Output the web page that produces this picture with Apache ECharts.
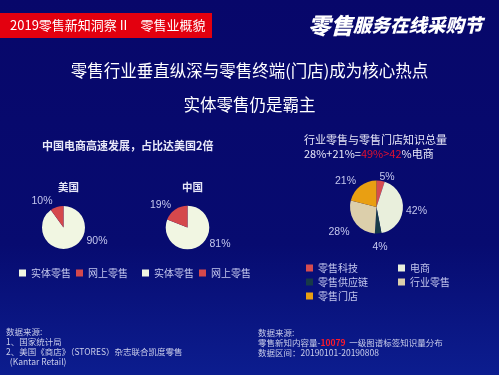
<!DOCTYPE html>
<html><head><meta charset="utf-8">
<script src="https://cdn.jsdelivr.net/npm/echarts@6/dist/echarts.min.js"></script>
<style>html,body{margin:0;padding:0;}#c{width:499px;height:375px;}</style>
</head><body><div id="c"></div>
<script>
// ---- data ----
var retailTypes = ['实体零售', '网上零售'];
var usValues = [90, 10];
var cnValues = [81, 19];
var knowledgeCats = ['零售科技', '电商', '零售供应链', '行业零售', '零售门店'];
var knowledgeValues = [5, 42, 4, 28, 21];

var CJK = '"Noto Sans CJK SC","Liberation Sans",sans-serif';
var LAT = '"Liberation Sans","Noto Sans CJK SC",sans-serif';
var labelColor = '#c4c7ee';
var textColor = '#e8e8f8';

// pie geometry and label placement (styling, relative to each pie centre)
var pieCenters = [[63.5, 227.5], [187.5, 227.5], [376.5, 207]];
var labelOffsets = [
  [[33.5, 13.5], [-21.5, -26.5]],
  [[32.5, 16.5], [-27, -22.5]],
  [[10.5, -30], [40, 4], [3.5, 40.5], [-37.5, 25.5], [-31, -26]]
];

var chart = echarts.init(document.getElementById('c'), null, {renderer: 'canvas'});

function mk(arr, names) { return arr.map(function (v, i) { return {name: names[i], value: v}; }); }

var pctLabel = {
  show: true, position: 'outside', formatter: '{c}%', overflow: 'none', width: 60,
  color: labelColor, fontFamily: LAT, fontSize: 10.5
};
function placeLabel(p) {
  var c = pieCenters[p.seriesIndex], o = labelOffsets[p.seriesIndex][p.dataIndex];
  return {x: c[0] + o[0], y: c[1] + o[1], align: 'center', verticalAlign: 'middle'};
}

var option = {
  backgroundColor: new echarts.graphic.LinearGradient(0, 0, 0, 1, [
    {offset: 0, color: '#07076a'}, {offset: 0.65, color: '#070b70'}, {offset: 1, color: '#0c1d8f'}
  ]),
  animation: false,
  title: [
    {text: '零售行业垂直纵深与零售终端(门店)成为核心热点', left: 'center', top: 57,
     textStyle: {color: '#ffffff', fontFamily: CJK, fontSize: 16.5, fontWeight: 'normal'}},
    {text: '实体零售仍是霸主', left: 'center', top: 91,
     textStyle: {color: '#ffffff', fontFamily: CJK, fontSize: 16.5, fontWeight: 'normal'}},
    {text: '中国电商高速发展，占比达美国2倍', left: 37, top: 135,
     textStyle: {color: textColor, fontFamily: CJK, fontSize: 11, fontWeight: 'bold'}},
    {text: '美国', left: 53, top: 177,
     textStyle: {color: textColor, fontFamily: CJK, fontSize: 10.5, fontWeight: 'bold'}},
    {text: '中国', left: 177, top: 177,
     textStyle: {color: textColor, fontFamily: CJK, fontSize: 10.5, fontWeight: 'bold'}},
    {text: '行业零售与零售门店知识总量\n28%+21%={r|49%>42}%电商', left: 299, top: 128,
     textStyle: {color: textColor, fontFamily: CJK, fontSize: 11, fontWeight: 'normal', lineHeight: 14,
       rich: {r: {color: '#e01030', fontFamily: CJK, fontSize: 11}}}}
  ],
  legend: [
    {data: retailTypes, left: 14, top: 263, orient: 'horizontal', itemWidth: 7, itemHeight: 7, itemGap: 5,
     icon: 'rect', textStyle: {color: labelColor, fontFamily: CJK, fontSize: 10}, selectedMode: false},
    {data: retailTypes, left: 137, top: 263, orient: 'horizontal', itemWidth: 7, itemHeight: 7, itemGap: 5,
     icon: 'rect', textStyle: {color: labelColor, fontFamily: CJK, fontSize: 10}, selectedMode: false},
    {data: ['零售科技', '零售供应链', '零售门店'], left: 301, top: 258, orient: 'vertical', itemWidth: 7, itemHeight: 7, itemGap: 4,
     icon: 'rect', textStyle: {color: labelColor, fontFamily: CJK, fontSize: 10}, selectedMode: false},
    {data: ['电商', '行业零售'], left: 393, top: 258, orient: 'vertical', itemWidth: 7, itemHeight: 7, itemGap: 4,
     icon: 'rect', textStyle: {color: labelColor, fontFamily: CJK, fontSize: 10}, selectedMode: false}
  ],
  series: [
    {type: 'pie', name: '美国', center: pieCenters[0], radius: 21.5, startAngle: 90, clockwise: true,
     color: ['#f1f6e2', '#d5484c'], data: mk(usValues, retailTypes),
     label: pctLabel, labelLine: {show: false}, labelLayout: placeLabel, silent: true},
    {type: 'pie', name: '中国', center: pieCenters[1], radius: 21.8, startAngle: 90, clockwise: true,
     color: ['#f1f6e2', '#d5484c'], data: mk(cnValues, retailTypes),
     label: pctLabel, labelLine: {show: false}, labelLayout: placeLabel, silent: true},
    {type: 'pie', name: '知识总量', center: pieCenters[2], radius: 26.5, startAngle: 90, clockwise: true,
     color: ['#d64c50', '#e9efdc', '#173a48', '#dccfab', '#e99f12'], data: mk(knowledgeValues, knowledgeCats),
     label: pctLabel, labelLine: {show: false}, labelLayout: placeLabel, silent: true}
  ],
  graphic: [
    {type: 'rect', shape: {x: 0, y: 13, width: 212, height: 25}, style: {fill: '#e3000f'}},
    {type: 'text', x: 10, y: 25.5, style: {text: '2019零售新知洞察 II　零售业概貌', fill: '#ffffff',
      font: '13px ' + CJK, textVerticalAlign: 'middle'}},
    {type: 'text', x: 308, y: 25, style: {
      text: '{a|零售}{b|服务在线采购节}', textVerticalAlign: 'middle',
      rich: {
        a: {fontSize: 22.5, fontWeight: 900, fontStyle: 'italic', fill: '#ffffff', fontFamily: CJK,
            textShadowColor: '#e0203a', textShadowOffsetX: 1, textShadowOffsetY: 1.5, textShadowBlur: 0},
        b: {fontSize: 18.5, fontWeight: 900, fontStyle: 'italic', fill: '#ffffff', fontFamily: CJK,
            textShadowColor: '#e0203a', textShadowOffsetX: 1, textShadowOffsetY: 1.5, textShadowBlur: 0}
      }}},
    {type: 'text', x: 6, y: 327, style: {text: '数据来源:\n1、国家统计局\n2、美国《商店》（STORES）杂志联合凯度零售\n  (Kantar Retail)',
      fill: '#c9cdea', font: '8.5px ' + CJK, lineHeight: 10}},
    {type: 'text', x: 258, y: 328, style: {text: '数据来源:\n零售新知内容量-{r|10079}  一级图谱标签知识量分布\n数据区间：20190101-20190808',
      fill: '#c9cdea', font: '8.5px ' + CJK, lineHeight: 10,
      rich: {r: {fill: '#ff1a2a', fontWeight: 'bold', fontSize: 8.5, fontFamily: CJK}}}}
  ]
};
chart.setOption(option);
</script></body></html>
